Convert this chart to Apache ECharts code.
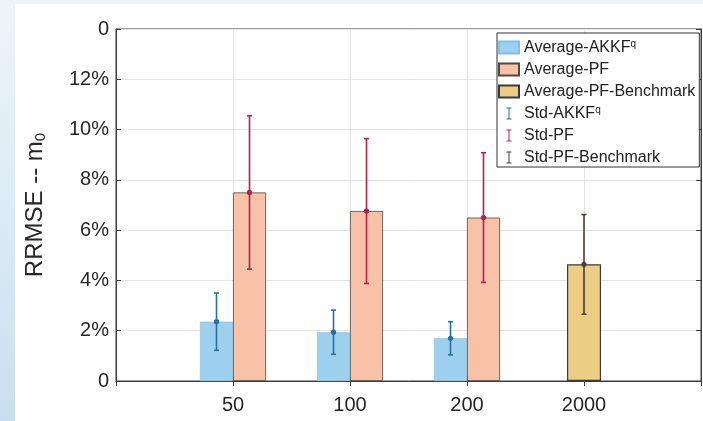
<!DOCTYPE html>
<html>
<head>
<meta charset="utf-8">
<script src="https://cdn.jsdelivr.net/npm/echarts@6/dist/echarts.min.js"></script>
<style>
  html, body { margin: 0; padding: 0; }
  #frame {
    position: relative; width: 703px; height: 421px; overflow: hidden;
    background: linear-gradient(to bottom, #ecf4f8 0%, #dcebf5 50%, #c8dfef 100%);
  }
  #paper { position: absolute; left: 15px; top: 4px; right: 0; bottom: 0; background: #fff; }
  #chart { position: absolute; left: 0; top: 0; width: 703px; height: 421px; }
</style>
</head>
<body>
<div id="frame">
  <div id="paper"></div>
  <div id="chart"></div>
</div>
<script>
// categories on the x axis (empty slots pad both ends)
const categories = ['', '50', '100', '200', '2000', ''];
// mean RRMSE (%) and std per particle count
const akkfMean = ['-', 2.36, 1.94, 1.70, '-', '-'];
const akkfStd  = ['-', 1.14, 0.88, 0.66, '-', '-'];
const pfMean   = ['-', 7.50, 6.76, 6.50, '-', '-'];
const pfStd    = ['-', 3.05, 2.88, 2.58, '-', '-'];
const benchMean = ['-', '-', '-', '-', 4.64, '-'];
const benchStd  = ['-', '-', '-', '-', 1.98, '-'];
const yTicks = [0, 2, 4, 6, 8, 10, 12, 14];

const FONT = "'Liberation Sans', Arial, sans-serif";
const BLUE = '#9dd0ef', PINK = '#f8c2a9', GOLD = '#eccd84';
const ERR_BLUE = '#2a6f9c', ERR_RED = '#b3204c', ERR_DARK = '#4b3d33';

function errData(means, stds) {
  const out = [];
  means.forEach((m, i) => { if (m !== '-') out.push([categories[i], m, stds[i]]); });
  return out;
}

function errRender(offset, color) {
  return function (params, api) {
    const x = api.value(0), m = api.value(1), s = api.value(2);
    const top = api.coord([x, m + s]);
    const bot = api.coord([x, m - s]);
    const mid = api.coord([x, m]);
    const cx = top[0] + offset;
    const st = { stroke: color, lineWidth: 1.6 };
    return {
      type: 'group',
      children: [
        { type: 'line', shape: { x1: cx, y1: top[1], x2: cx, y2: bot[1] }, style: st },
        { type: 'line', shape: { x1: cx - 2.5, y1: top[1], x2: cx + 2.5, y2: top[1] }, style: st },
        { type: 'line', shape: { x1: cx - 2.5, y1: bot[1], x2: cx + 2.5, y2: bot[1] }, style: st },
        { type: 'circle', shape: { cx: cx, cy: mid[1], r: 2.6 }, style: { fill: color } }
      ]
    };
  };
}

const errIcon = 'path://M0,0H5V1H3V11H5V12H0V11H2V1H0Z';

const chart = echarts.init(document.getElementById('chart'), null, { renderer: 'canvas' });
chart.setOption({
  backgroundColor: 'transparent',
  textStyle: { fontFamily: FONT },
  grid: { left: 116, right: 2, top: 29, bottom: 40, show: true, borderColor: '#3c3c3c', borderWidth: 1, outerBoundsMode: 'none' },
  legend: {
    orient: 'vertical', left: 497, top: 33,
    backgroundColor: '#fff', borderColor: '#333', borderWidth: 1,
    padding: [6, 4, 1, 1], itemGap: 5, itemWidth: 20, itemHeight: 12,
    textStyle: {
      fontFamily: FONT, fontSize: 16, color: '#222', lineHeight: 17,
      rich: { sup: { fontSize: 10, verticalAlign: 'top', fontFamily: FONT, color: '#222' } }
    },
    formatter: name => name.replace('AKKFq', 'AKKF{sup|q}'),
    data: [
      { name: 'Average-AKKFq', icon: 'rect' },
      { name: 'Average-PF', icon: 'rect' },
      { name: 'Average-PF-Benchmark', icon: 'rect' },
      { name: 'Std-AKKFq', icon: errIcon },
      { name: 'Std-PF', icon: errIcon },
      { name: 'Std-PF-Benchmark', icon: errIcon }
    ]
  },
  xAxis: [
    {
      type: 'category', data: categories, boundaryGap: false, position: 'bottom',
      axisLine: { lineStyle: { color: '#3c3c3c' } },
      axisTick: { inside: true, length: 5, interval: 0, lineStyle: { color: '#3c3c3c' } },
      axisLabel: { interval: 0, fontSize: 20, color: '#262626', margin: 14, fontFamily: FONT },
      splitLine: { show: true, interval: 0, lineStyle: { color: '#e4e4e4' } }
    },
    {
      type: 'category', data: categories, boundaryGap: false, position: 'top',
      axisLine: { lineStyle: { color: '#3c3c3c' } },
      axisTick: { inside: true, length: 5, interval: 0, lineStyle: { color: '#3c3c3c' } },
      axisLabel: { show: false },
      splitLine: { show: false }
    }
  ],
  yAxis: [
    {
      type: 'value', min: 0, max: 14, interval: 2, position: 'left',
      name: 'RRMSE -- m{sub|0}', nameLocation: 'middle', nameGap: 68,
      nameTextStyle: {
        fontSize: 24, color: '#262626', fontFamily: FONT,
        rich: { sub: { fontSize: 15, verticalAlign: 'bottom', fontFamily: FONT, color: '#262626', padding: [10, 0, 0, 0] } }
      },
      axisLine: { show: true, lineStyle: { color: '#3c3c3c' } },
      axisTick: { show: true, inside: true, length: 5, lineStyle: { color: '#3c3c3c' } },
      axisLabel: {
        fontSize: 20, color: '#262626', margin: 7, fontFamily: FONT,
        formatter: v => (v === yTicks[0] || v === yTicks[yTicks.length - 1]) ? '0' : v + '%'
      },
      splitLine: { show: true, lineStyle: { color: '#e4e4e4' } }
    },
    {
      type: 'value', min: 0, max: 14, interval: 2, position: 'right',
      axisLine: { show: true, lineStyle: { color: '#3c3c3c' } },
      axisTick: { show: true, inside: true, length: 5, lineStyle: { color: '#3c3c3c' } },
      axisLabel: { show: false },
      splitLine: { show: false }
    }
  ],
  series: [
    {
      name: 'Average-AKKFq', type: 'bar', data: akkfMean, barWidth: 33, barGap: '0%',
      itemStyle: { color: BLUE, borderColor: '#86bde0', borderWidth: 0.6 }
    },
    {
      name: 'Average-PF', type: 'bar', data: pfMean, barWidth: 33, barGap: '0%',
      itemStyle: { color: PINK, borderColor: '#4a4a4a', borderWidth: 0.8 }
    },
    {
      name: 'Average-PF-Benchmark', type: 'bar', data: benchMean, barWidth: 34, xAxisIndex: 1,
      itemStyle: { color: GOLD, borderColor: '#3a3a3a', borderWidth: 1.2 }
    },
    {
      name: 'Std-AKKFq', type: 'custom', data: errData(akkfMean, akkfStd),
      itemStyle: { color: ERR_BLUE }, renderItem: errRender(-16.5, ERR_BLUE), z: 5
    },
    {
      name: 'Std-PF', type: 'custom', data: errData(pfMean, pfStd),
      itemStyle: { color: ERR_RED }, renderItem: errRender(16.5, ERR_RED), z: 5
    },
    {
      name: 'Std-PF-Benchmark', type: 'custom', xAxisIndex: 1, data: errData(benchMean, benchStd),
      itemStyle: { color: ERR_DARK }, renderItem: errRender(0, ERR_DARK), z: 5
    }
  ]
});
</script>
</body>
</html>
